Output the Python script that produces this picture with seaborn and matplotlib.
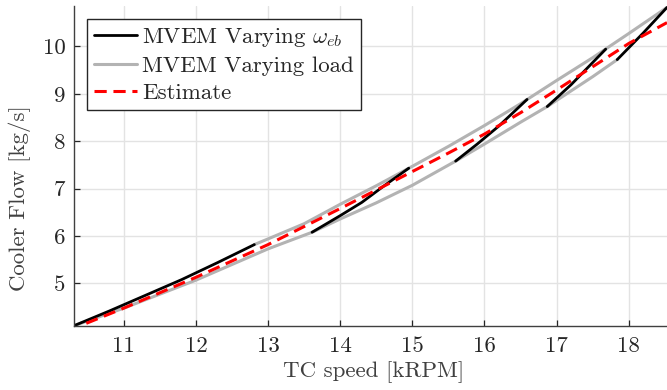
import numpy as np
import pandas as pd
import matplotlib
matplotlib.use("Agg")
import matplotlib.pyplot as plt
from matplotlib.lines import Line2D
import seaborn as sns

# --- Cooler flow vs turbocharger speed -------------------------------------
# Varying load at the lowest engine-brake speed (lower grey envelope)
load_lo_speed = [10.31, 11.0, 12.0, 13.0, 13.61, 14.0, 14.5, 15.0, 15.6, 16.0, 16.5, 16.87, 17.0, 17.5, 17.84]
load_lo_flow = [4.11, 4.48, 5.07, 5.73, 6.08, 6.36, 6.70, 7.07, 7.58, 7.94, 8.40, 8.73, 8.86, 9.36, 9.72]

# Varying load at the highest engine-brake speed (upper grey envelope)
load_hi_speed = [12.81, 13.0, 13.5, 14.0, 14.5, 15.0, 15.5, 16.0, 16.5, 17.0, 17.5, 18.0, 18.53]
load_hi_flow = [5.82, 5.94, 6.26, 6.67, 7.06, 7.47, 7.89, 8.33, 8.79, 9.28, 9.76, 10.27, 10.82]

# Varying omega_eb at fixed load levels (black segments)
web_seg1_speed = [10.31, 10.8, 11.3, 11.8, 12.3, 12.81]
web_seg1_flow = [4.11, 4.42, 4.75, 5.08, 5.44, 5.82]
web_seg2_speed = [13.61, 14.0, 14.3, 14.6, 14.95]
web_seg2_flow = [6.08, 6.43, 6.71, 7.05, 7.43]
web_seg3_speed = [15.6, 15.9, 16.2, 16.59]
web_seg3_flow = [7.58, 7.94, 8.32, 8.88]
web_seg4_speed = [16.87, 17.2, 17.68]
web_seg4_flow = [8.73, 9.19, 9.94]
web_seg5_speed = [17.84, 18.2, 18.53]
web_seg5_flow = [9.72, 10.28, 10.82]

# Estimated cooler flow (red dashed)
est_speed = [10.48, 11.0, 12.0, 13.0, 14.0, 15.0, 15.5, 16.0, 16.5, 17.0, 17.5, 18.0, 18.53]
est_flow = [4.16, 4.48, 5.13, 5.82, 6.58, 7.36, 7.75, 8.15, 8.60, 9.08, 9.57, 10.06, 10.50]

x_ticks = [11, 12, 13, 14, 15, 16, 17, 18]
y_ticks = [5, 6, 7, 8, 9, 10]

label_web = r"MVEM Varying $\omega_{eb}$"
label_load = "MVEM Varying load"
label_est = "Estimate"
x_label = "TC speed [kRPM]"
y_label = "Cooler Flow [kg/s]"

# --- tables for seaborn ----------------------------------------------------
load_df = pd.concat([
    pd.DataFrame({"speed": load_lo_speed, "flow": load_lo_flow, "curve": "lo"}),
    pd.DataFrame({"speed": load_hi_speed, "flow": load_hi_flow, "curve": "hi"}),
], ignore_index=True)

segs = [(web_seg1_speed, web_seg1_flow), (web_seg2_speed, web_seg2_flow),
        (web_seg3_speed, web_seg3_flow), (web_seg4_speed, web_seg4_flow),
        (web_seg5_speed, web_seg5_flow)]
web_df = pd.concat([pd.DataFrame({"speed": s, "flow": f, "seg": i})
                    for i, (s, f) in enumerate(segs)], ignore_index=True)

est_df = pd.DataFrame({"speed": est_speed, "flow": est_flow})

# --- style ----------------------------------------------------------------
sns.set_style("whitegrid")
plt.rcParams["font.family"] = ["cmr10", "DejaVu Serif"]
plt.rcParams["mathtext.fontset"] = "cm"
plt.rcParams["axes.unicode_minus"] = False
plt.rcParams["axes.formatter.use_mathtext"] = True

FS = 16.5
TXT = "#262626"
GREY = "#b3b3b3"

fig = plt.figure(figsize=(6.67, 3.90), dpi=100)
ax = fig.add_axes([74 / 667, 1 - 325.7 / 390, 593 / 667, 319.7 / 390])

sns.lineplot(data=load_df, x="speed", y="flow", units="curve", estimator=None,
             sort=False, color=GREY, lw=2.2, ax=ax, legend=False)
sns.lineplot(data=web_df, x="speed", y="flow", units="seg", estimator=None,
             sort=False, color="black", lw=2.0, ax=ax, legend=False)
sns.lineplot(data=est_df, x="speed", y="flow", estimator=None, sort=False,
             color="red", lw=2.2, ax=ax, legend=False)
ax.lines[-1].set_dashes([4, 2.2])

all_x = load_lo_speed + load_hi_speed + est_speed
all_y = load_lo_flow + load_hi_flow + est_flow
ax.set_xlim(min(all_x), max(all_x))
ax.set_ylim(min(all_y), max(all_y) + 0.03)

ax.set_xticks(x_ticks)
ax.set_yticks(y_ticks)
ax.set_xticklabels([str(v) for v in x_ticks])
ax.set_yticklabels([str(v) for v in y_ticks])
ax.tick_params(axis="both", direction="in", length=4.5, width=0.9, colors=TXT,
               labelsize=FS, pad=6, bottom=True, left=True)
ax.tick_params(axis="x", pad=8)

ax.grid(True, color="#e3e3e3", lw=1.0)
for side in ["top", "right"]:
    ax.spines[side].set_visible(False)
for side in ["left", "bottom"]:
    ax.spines[side].set_color("#404040")
    ax.spines[side].set_linewidth(1.0)

ax.set_xlabel(x_label, fontsize=FS, color="#404040")
ax.set_ylabel(y_label, fontsize=FS, color="#404040")
ax.xaxis.set_label_coords(0.505, -0.11)
ax.yaxis.set_label_coords(-0.072, 0.40)

handles = [
    Line2D([], [], color="black", lw=2.0),
    Line2D([], [], color=GREY, lw=2.2),
    Line2D([], [], color="red", lw=2.2, dashes=[4, 2.2]),
]
leg = ax.legend(handles, [label_web, label_load, label_est], loc="upper left",
                bbox_to_anchor=(0.022, 0.959), borderaxespad=0, fontsize=FS,
                frameon=True, fancybox=False, framealpha=1, edgecolor=TXT,
                handlelength=1.9, handletextpad=0.2, labelspacing=0.3,
                borderpad=0.3)
leg.get_frame().set_linewidth(1.0)

fig.savefig("out.png", dpi=100)
